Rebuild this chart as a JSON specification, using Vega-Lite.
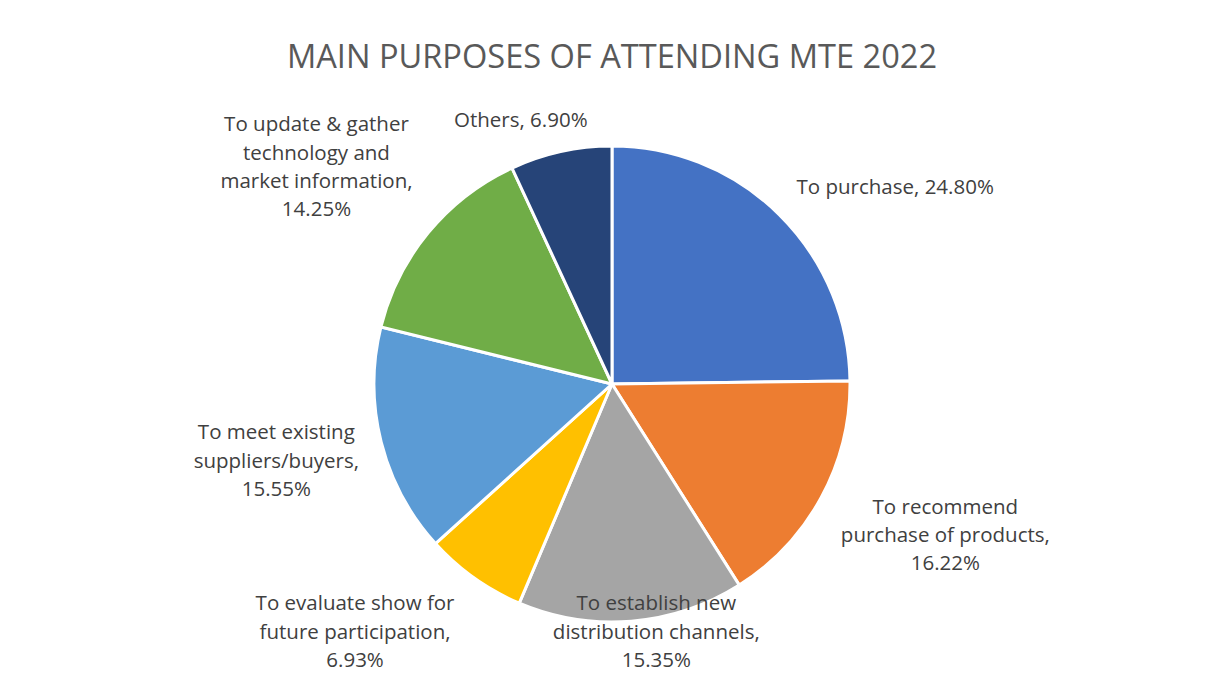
{
  "$schema": "https://vega.github.io/schema/vega-lite/v6.json",
  "width": 1194,
  "height": 612,
  "autosize": "none",
  "padding": {"left": 15, "top": 78, "right": 0, "bottom": 0},
  "background": "white",
  "title": {"text": "MAIN PURPOSES OF ATTENDING MTE 2022", "font": "Open Sans", "fontSize": 32.6, "fontWeight": "normal", "color": "#595959", "anchor": "middle", "offset": 3},
  "config": {"view": {"stroke": null}},
  "data": {"values": [
    {"rank": 1, "purpose": "To  purchase", "value": 24.80, "label": "To  purchase, 24.80%"},
    {"rank": 2, "purpose": "To recommend purchase of products", "value": 16.22, "label": "To recommend\npurchase of products,\n16.22%"},
    {"rank": 3, "purpose": "To establish new distribution channels", "value": 15.35, "label": "To establish new\ndistribution channels,\n15.35%"},
    {"rank": 4, "purpose": "To evaluate show for future participation", "value": 6.93, "label": "To evaluate show for\nfuture participation,\n6.93%"},
    {"rank": 5, "purpose": "To meet existing suppliers/buyers", "value": 15.55, "label": "To meet existing\nsuppliers/buyers,\n15.55%"},
    {"rank": 6, "purpose": "To update & gather technology and market information", "value": 14.25, "label": "To update & gather\ntechnology and\nmarket information,\n14.25%"},
    {"rank": 7, "purpose": "Others", "value": 6.90, "label": "Others, 6.90%"}
  ]},
  "encoding": {
    "theta": {"field": "value", "type": "quantitative", "stack": true},
    "order": {"field": "rank", "type": "quantitative"},
    "color": {
      "field": "purpose",
      "type": "nominal",
      "legend": null,
      "scale": {
        "domain": ["To  purchase", "To recommend purchase of products", "To establish new distribution channels", "To evaluate show for future participation", "To meet existing suppliers/buyers", "To update & gather technology and market information", "Others"],
        "range": ["#4472C4", "#ED7D31", "#A5A5A5", "#FFC000", "#5B9BD5", "#70AD47", "#264478"]
      }
    }
  },
  "layer": [
    {"mark": {"type": "arc", "outerRadius": 238, "stroke": "white", "strokeWidth": 3}},
    {
      "mark": {
        "type": "text",
        "radius": 255,
        "font": "Open Sans",
        "fontSize": 20.5,
        "lineBreak": "\n",
        "lineHeight": 28.3,
        "align": "center",
        "baseline": "middle",
        "dx": {"expr": "5.2 * max(length(split(datum.label, '\\n')[0]), length(split(datum.label, '\\n')[1] || ''), length(split(datum.label, '\\n')[2] || ''), length(split(datum.label, '\\n')[3] || '')) * clamp(2.5 * sin((datum.value_start + datum.value_end) * PI / 100), -1, 1)"},
        "dy": {"expr": "min(-14.15 * length(split(datum.label, '\\n')) * clamp(1.5 * cos((datum.value_start + datum.value_end) * PI / 100), -1, 1), height / 2 + 255 * cos((datum.value_start + datum.value_end) * PI / 100) - 14.15 * length(split(datum.label, '\\n')) - 15) - 14.15 * (length(split(datum.label, '\\n')) - 1)"}
      },
      "encoding": {"text": {"field": "label", "type": "nominal"}, "color": {"value": "#404040"}}
    }
  ]
}
